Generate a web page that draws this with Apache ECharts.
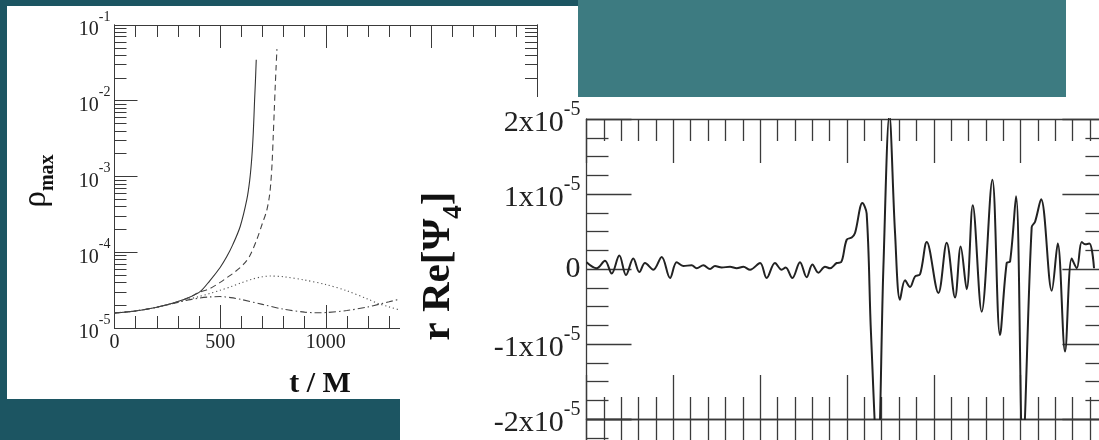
<!DOCTYPE html>
<html><head><meta charset="utf-8">
<script src="https://cdn.jsdelivr.net/npm/echarts@6/dist/echarts.min.js"></script>
<style>html,body{margin:0;padding:0;background:#1c5562;}#c{width:1099px;height:440px;}</style>
</head><body><div id="c"></div><script>
// ---------- left panel: rho_max vs t/M (log scale) ----------
const rhoSolid = [[0,1.58e-5],[100,1.68e-5],[200,1.88e-5],[300,2.24e-5],[350,2.51e-5],[405,3.02e-5],[450,4.17e-5],[500,6.3e-5],[531,8.7e-5],[560,1.26e-4],[595,2.19e-4],[626,4.9e-4],[640,8.9e-4],[650,1.78e-3],[657,3.8e-3],[663,1.0e-2],[667,1.78e-2],[671,3.47e-2]];
const rhoDashed = [[0,1.58e-5],[100,1.68e-5],[200,1.88e-5],[300,2.22e-5],[350,2.5e-5],[400,2.95e-5],[450,3.3e-5],[500,4.0e-5],[531,4.6e-5],[570,5.5e-5],[610,6.9e-5],[640,8.9e-5],[674,1.48e-4],[700,2.4e-4],[720,3.5e-4],[733,5.4e-4],[740,8.3e-4],[746,1.5e-3],[751,3.2e-3],[756,7.1e-3],[761,1.58e-2],[765,2.8e-2],[769,4.8e-2]];
const rhoDotted = [[0,1.58e-5],[100,1.68e-5],[200,1.88e-5],[300,2.2e-5],[350,2.4e-5],[400,2.6e-5],[450,2.85e-5],[500,3.15e-5],[550,3.5e-5],[600,3.95e-5],[650,4.4e-5],[700,4.75e-5],[740,4.85e-5],[800,4.75e-5],[900,4.3e-5],[1000,3.75e-5],[1100,3.1e-5],[1200,2.4e-5],[1250,2.1e-5],[1300,1.9e-5],[1350,1.73e-5],[1400,1.6e-5]];
const rhoDashDot = [[0,1.58e-5],[100,1.68e-5],[200,1.88e-5],[300,2.18e-5],[350,2.35e-5],[400,2.48e-5],[450,2.57e-5],[500,2.6e-5],[550,2.52e-5],[600,2.38e-5],[700,2.05e-5],[800,1.77e-5],[900,1.62e-5],[950,1.59e-5],[1000,1.6e-5],[1100,1.7e-5],[1200,1.9e-5],[1250,2.05e-5],[1300,2.22e-5],[1350,2.4e-5],[1400,2.55e-5]];
const rhoDecades = [1e-5,1e-4,1e-3,1e-2,1e-1];
const rhoMinor = [];
for (let e=-5;e<-1;e++) for (let k=2;k<=9;k++) rhoMinor.push(k*Math.pow(10,e));

// ---------- right panel: r Re[Psi_4] (units of 1e-5) ----------
const psiX = [0,11.7,21.3,29.0,37.8,45.5,53.9,60.9,67.4,77.0,86.6,96.2,103.9,111.5,121.1,126.9,134.6,142.3,148.0,155.7,165.3,173.0,180.7,188.4,199.9,207.5,217.1,224.8,229.4,237.1,245.9,253.6,260.2,267.1,274.7,280.5,288.2,293.2,299.7,305.5,309.3,317.8,322.7,327.7,335.4,342.0,348.9,355.4,361.1,366.9,372.7,378.4,384.2,391.9,405.3,414.9,424.5,431.0,437.9,444.9,455.2,467.5,476.3,484.0,487.9,494.8,502.5,512.8,516.7,523.6,535.9,542.8,551.2,558.9,564.7,570.4,574.3,579.3,584.6];
const psiV = [0.09,0.01,0.11,-0.06,0.18,-0.08,0.14,-0.04,0.08,-0.01,0.16,-0.12,0.09,0.04,0.05,0.01,0.05,0.0,0.04,0.02,0.03,0.01,0.03,-0.01,0.08,-0.12,0.08,-0.01,0.02,-0.12,0.09,-0.11,0.06,-0.05,0.03,0.01,0.08,0.09,0.39,0.42,0.48,0.88,0.74,-0.86,-2.6,0.03,2.05,0.48,-0.41,-0.15,-0.24,-0.10,-0.07,0.36,-0.32,0.35,-0.38,0.30,-0.27,0.85,-0.57,1.19,-0.88,0.08,0.10,0.97,-2.4,0.56,0.63,0.93,-0.29,0.34,-1.10,0.14,0.01,0.36,0.33,0.34,0.01];

const SERIF = '"Liberation Serif","DejaVu Serif",serif';
const TK = '#3a3a3a';
const chart = echarts.init(document.getElementById('c'));

function lgAxisBase(pos, ticks, len, labels){
  return {type:'log', gridIndex:0, position:pos, min:1e-5, max:1e-1, logBase:10, z:5,
    axisLine:{show:true, lineStyle:{color:TK,width:1}},
    axisTick:{show:true, inside:true, length:len, customValues:ticks, lineStyle:{color:TK,width:1}},
    axisLabel:labels ? {show:true, customValues:rhoDecades, margin:4, color:'#222', fontFamily:SERIF,
      formatter:v=>'{b|10}{s|'+Math.round(Math.log10(v))+'}',
      rich:{b:{fontSize:20,lineHeight:30,verticalAlign:'bottom',fontFamily:SERIF,color:'#222'},
            s:{fontSize:14,lineHeight:14,verticalAlign:'top',fontFamily:SERIF,color:'#222'}}} : {show:false},
    splitLine:{show:false}};
}
function psiY(pos, labels){
  return {type:'value', gridIndex:1, position:pos, min:-2, max:2, interval:1, z:20,
    axisLine:{show:true, onZero:false, lineStyle:{color:TK,width:1.3}},
    axisTick:{show:true, inside:true, length:45, lineStyle:{color:TK,width:1.3}},
    minorTick:{show:true, splitNumber:4, length:22, lineStyle:{color:TK,width:1.3}},
    axisLabel:labels ? {show:true, margin:6, fontSize:30, fontFamily:SERIF, color:'#222',
      formatter:v=>{const n=Math.round(v); return n===0?'0':'{b|'+n+'x10}{s|-5}';},
      rich:{b:{fontSize:30,lineHeight:38,verticalAlign:'bottom',fontFamily:SERIF,color:'#222'},
            s:{fontSize:20,lineHeight:20,verticalAlign:'top',fontFamily:SERIF,color:'#222'}}} : {show:false},
    splitLine:{show:false}};
}
function psiXAxis(pos, inside, len, mlen){
  return {type:'value', gridIndex:1, position:pos, min:0, max:600, interval:100, z:20,
    axisLine:{show:true, onZero:false, lineStyle:{color:TK,width:1.3}},
    axisTick:{show:true, inside:inside, length:len, lineStyle:{color:TK,width:1.3}},
    minorTick:{show:true, splitNumber:5, length:mlen, lineStyle:{color:TK,width:1.3}},
    axisLabel:{show:false}, splitLine:{show:false}};
}
function rhoX(pos, labels){
  return {type:'value', gridIndex:0, position:pos, min:0, max:2000, interval:500, z:5,
    axisLine:{show:true, onZero:false, lineStyle:{color:TK,width:1}},
    axisTick:{show:true, inside:true, length:23, lineStyle:{color:TK,width:1}},
    minorTick:{show:true, splitNumber:5, length:12, lineStyle:{color:TK,width:1}},
    axisLabel:labels?{show:true, margin:5, fontSize:20, fontFamily:SERIF, color:'#222', showMinLabel:true, formatter:v=>String(v)}:{show:false},
    splitLine:{show:false}};
}

const lineBase = {type:'line', xAxisIndex:0, yAxisIndex:0, showSymbol:false, smooth:0.3, z:6, silent:true};
chart.setOption({
  animation:false,
  backgroundColor:'#1c5562',
  grid:[
    {left:114.5, top:25, width:422.5, height:303, outerBoundsMode:'none'},
    {left:586.5, top:119, width:520.9, height:300, outerBoundsMode:'none'},
    {left:586.5, top:419, width:520.9, height:37.5, outerBoundsMode:'none'}
  ],
  xAxis:[
    rhoX('bottom', true), rhoX('top', false),
    psiXAxis('bottom', true, 44, 22), psiXAxis('top', true, 44, 22), psiXAxis('bottom', false, 30, 30),
    {type:'value', gridIndex:2, show:false, min:0, max:600}
  ],
  yAxis:[
    lgAxisBase('left', rhoDecades, 23, true),
    lgAxisBase('left', rhoMinor, 12, false),
    lgAxisBase('right', rhoDecades, 23, false),
    lgAxisBase('right', rhoMinor, 12, false),
    psiY('left', true), psiY('right', false),
    {type:'value', gridIndex:2, position:'left', min:-2.5, max:-2, interval:0.5, z:20,
      axisLine:{show:true, onZero:false, lineStyle:{color:TK,width:1.3}},
      axisTick:{show:true, inside:true, length:45, lineStyle:{color:TK,width:1.3}},
      minorTick:{show:true, splitNumber:2, length:22, lineStyle:{color:TK,width:1.3}},
      axisLabel:{show:false}, splitLine:{show:false}}
  ],
  series:[
    Object.assign({}, lineBase, {data:rhoSolid, lineStyle:{color:'#333', width:1.1, type:'solid'}}),
    Object.assign({}, lineBase, {data:rhoDashed, lineStyle:{color:'#444', width:1.1, type:[6,4]}}),
    Object.assign({}, lineBase, {data:rhoDotted, lineStyle:{color:'#555', width:1.1, type:[1.2,2.8]}}),
    Object.assign({}, lineBase, {data:rhoDashDot, lineStyle:{color:'#444', width:1.1, type:[7,3,1.5,3]}}),
    {type:'line', xAxisIndex:2, yAxisIndex:4, showSymbol:false, smooth:0.35, z:21, clip:true, silent:true,
      data:psiX.map((x,i)=>[x,psiV[i]]), lineStyle:{color:'#222', width:2}}
  ],
  graphic:{elements:[
    {type:'rect', z:0, shape:{x:578,y:0,width:488,height:97}, style:{fill:'#3d7b81'}},
    {type:'rect', z:0, shape:{x:1066,y:0,width:33,height:97}, style:{fill:'#ffffff'}},
    {type:'rect', z:0, shape:{x:7,y:6,width:571,height:393}, style:{fill:'#ffffff'}},
    {type:'rect', z:10, shape:{x:400,y:97,width:699,height:343}, style:{fill:'#ffffff'}},
    {type:'text', z:7, x:39, y:181, rotation:Math.PI/2, style:{text:'{r|ρ}{m|max}', align:'center', verticalAlign:'middle',
      rich:{r:{fontSize:33,lineHeight:38,verticalAlign:'top',fontFamily:SERIF,fill:'#111'},
            m:{fontSize:20,lineHeight:20,fontWeight:'bold',verticalAlign:'bottom',fontFamily:SERIF,fill:'#111'}}}},
    {type:'text', z:7, x:320, y:384, style:{text:'t / M', align:'center', verticalAlign:'middle', fill:'#111',
      font:'bold 30px '+SERIF}},
    {type:'text', z:30, x:443, y:266, rotation:Math.PI/2, style:{text:'{a|r Re[Ψ}{s|4}{a|]}', align:'center', verticalAlign:'middle',
      rich:{a:{fontSize:41,lineHeight:50,fontWeight:'bold',verticalAlign:'top',fontFamily:SERIF,fill:'#111'},
            s:{fontSize:27,lineHeight:27,fontWeight:'bold',verticalAlign:'bottom',fontFamily:SERIF,fill:'#111'}}}}
  ]}
});
</script></body></html>
